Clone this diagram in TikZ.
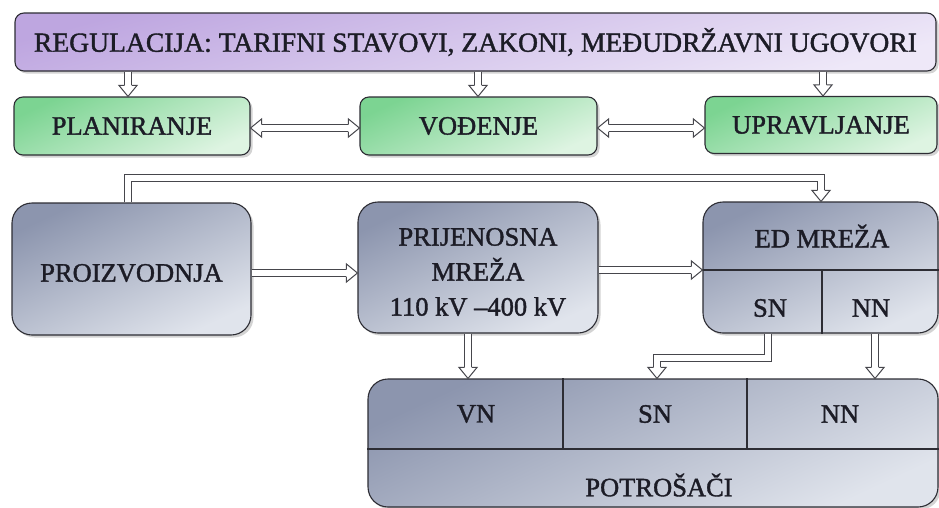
\documentclass[tikz,border=0pt]{standalone}
\usepackage{fontspec}
\setmainfont{Liberation Serif}
\newfontfamily\heavy{Liberation Serif}[FakeBold=1.4]
\usetikzlibrary{calc,shadows}
\definecolor{edge}{RGB}{45,45,52}
\definecolor{txt}{RGB}{28,28,38}
\definecolor{purA}{RGB}{190,166,224}
\definecolor{purB}{RGB}{238,232,248}
\definecolor{grnA}{RGB}{124,212,146}
\definecolor{grnB}{RGB}{222,244,226}
\definecolor{gryA}{RGB}{140,149,174}
\definecolor{gryB}{RGB}{224,228,236}
\definecolor{arr}{RGB}{70,70,76}
\tikzset{
  box/.style={draw=edge, line width=1.1pt, rectangle, text=txt, inner sep=0pt, align=center,
    font=\heavy\fontsize{26.5}{35}\selectfont,
    drop shadow={opacity=0.35, shadow xshift=2.5pt, shadow yshift=-2.5pt}},
  regbox/.style={box, rounded corners=9pt, top color=purA, bottom color=purB, shading angle=15},
  grnbox/.style={box, rounded corners=9pt, top color=grnA, bottom color=grnB, shading angle=25},
  grybox/.style={box, rounded corners=20pt, top color=gryA, bottom color=gryB, shading angle=25},
  lbl/.style={text=txt, inner sep=0pt, align=center, font=\heavy\fontsize{26.5}{35}\selectfont},
  divider/.style={draw=edge, line width=1.1pt},
  dbl/.style={draw=arr, line width=1pt, double=white, double distance=6pt, line join=miter},
  arrhead/.style={draw=arr, fill=white, line width=1pt, line join=miter}
}
\newcommand{\tipto}[2]{%
  \coordinate (hb) at ($(#2)!11pt!(#1)$);
  \filldraw[arrhead] ($(hb)!3.5pt!90:(#2)$) -- ($(hb)!9pt!90:(#2)$) -- (#2)
     -- ($(hb)!9pt!-90:(#2)$) -- ($(hb)!3.5pt!-90:(#2)$);
}
\newcommand{\sarrow}[2]{%
  \draw[dbl] (#1) -- ($(#2)!11pt!(#1)$);
  \tipto{#1}{#2}%
}
\newcommand{\darrow}[2]{%
  \draw[dbl] ($(#1)!11pt!(#2)$) -- ($(#2)!11pt!(#1)$);
  \tipto{#2}{#1}%
  \tipto{#1}{#2}%
}
\begin{document}
\begin{tikzpicture}[x=1pt, y=-1pt]
\useasboundingbox (0,0) rectangle (939,507);

% boxes
\node[regbox, minimum width=921pt, minimum height=58pt, font=\heavy\fontsize{27.6}{35}\selectfont] (reg) at (475.5,42)
  {REGULACIJA: TARIFNI STAVOVI, ZAKONI, MEĐUDRŽAVNI UGOVORI};
\node[grnbox, minimum width=236pt, minimum height=58pt] (plan) at (132,126) {PLANIRANJE};
\node[grnbox, minimum width=237pt, minimum height=58pt] (vod) at (478.5,126) {VOĐENJE};
\node[grnbox, minimum width=232pt, minimum height=57pt] (upr) at (821,125) {UPRAVLJANJE};

\node[grybox, minimum width=239pt, minimum height=132pt] (proiz) at (131.5,269) {};
\node[lbl] (proizt) at (131.5,273) {PROIZVODNJA};
\node[grybox, minimum width=240pt, minimum height=131pt] (prij) at (478,267.5) {};
\node[lbl] (prijt) at (478,272) {PRIJENOSNA\\MREŽA\\110 kV –400 kV};
\node[grybox, minimum width=235pt, minimum height=131pt] (ed) at (820.5,267.5) {};
\node[grybox, minimum width=570pt, minimum height=128pt] (potr) at (653,443) {};

% dividers of ED MREZA
\coordinate (edl) at (ed.west |- 0,270);
\coordinate (edr) at (ed.east |- 0,270);
\coordinate (edm) at (822,270);
\coordinate (edb) at (ed.south -| 822,0);
\draw[divider] (edl) -- (edr);
\draw[divider] (edm) -- (edb);
\node[lbl] (edt) at (822,236) {ED MREŽA};
\node[lbl] (edsn) at (770,308) {SN};
\node[lbl] (ednn) at (871,308) {NN};

% dividers of POTROSACI
\coordinate (pl) at (potr.west |- 0,449);
\coordinate (pr) at (potr.east |- 0,449);
\coordinate (pv1) at (potr.north -| 563,0);
\coordinate (pv1b) at (563,449);
\coordinate (pv2) at (potr.north -| 747,0);
\coordinate (pv2b) at (747,449);
\draw[divider] (pl) -- (pr);
\draw[divider] (pv1) -- (pv1b);
\draw[divider] (pv2) -- (pv2b);
\node[lbl] (pvn) at (476,414) {VN};
\node[lbl] (psn) at (655,414) {SN};
\node[lbl] (pnn) at (840,414) {NN};
\node[lbl] (pt) at (659,485) {POTROŠAČI};

% arrows from regulation
\coordinate (r1) at (reg.south -| 128,0);  \coordinate (r1e) at (plan.north -| 128,0);
\coordinate (r2) at (reg.south -| 478,0);  \coordinate (r2e) at (vod.north -| 478,0);
\coordinate (r3) at (reg.south -| 823,0);  \coordinate (r3e) at (upr.north -| 823,0);
\sarrow{r1}{r1e}
\sarrow{r2}{r2e}
\sarrow{r3}{r3e}

% double-headed arrows
\coordinate (h1) at (plan.east |- 0,128); \coordinate (h1e) at (vod.west |- 0,128);
\coordinate (h2) at (vod.east |- 0,128);  \coordinate (h2e) at (upr.west |- 0,128);
\darrow{h1}{h1e}
\darrow{h2}{h2e}

% loop from PROIZVODNJA to ED MREZA
\coordinate (l0) at (proiz.north -| 128,0);
\coordinate (l1) at (128,177.5);
\coordinate (l2) at (821,177.5);
\coordinate (l3) at (ed.north -| 821,0);
\draw[dbl] (l0) -- (l1) -- (l2) -- ($(l3)!11pt!(l2)$);
\tipto{l2}{l3}

% row 2 arrows
\coordinate (m1) at (proiz.east |- 0,273); \coordinate (m1e) at (prij.west |- 0,273);
\coordinate (m2) at (prij.east |- 0,270);  \coordinate (m2e) at (ed.west |- 0,270);
\sarrow{m1}{m1e}
\sarrow{m2}{m2e}

% arrows down to POTROSACI
\coordinate (d1) at (prij.south -| 468,0); \coordinate (d1e) at (potr.north -| 468,0);
\sarrow{d1}{d1e}
\coordinate (d2) at (ed.south -| 768,0);
\coordinate (d2a) at (768,358);
\coordinate (d2b) at (657,358);
\coordinate (d2e) at (potr.north -| 657,0);
\draw[dbl] (d2) -- (d2a) -- (d2b) -- ($(d2e)!11pt!(d2b)$);
\tipto{d2b}{d2e}
\coordinate (d3) at (ed.south -| 875,0); \coordinate (d3e) at (potr.north -| 875,0);
\sarrow{d3}{d3e}
\end{tikzpicture}
\end{document}
